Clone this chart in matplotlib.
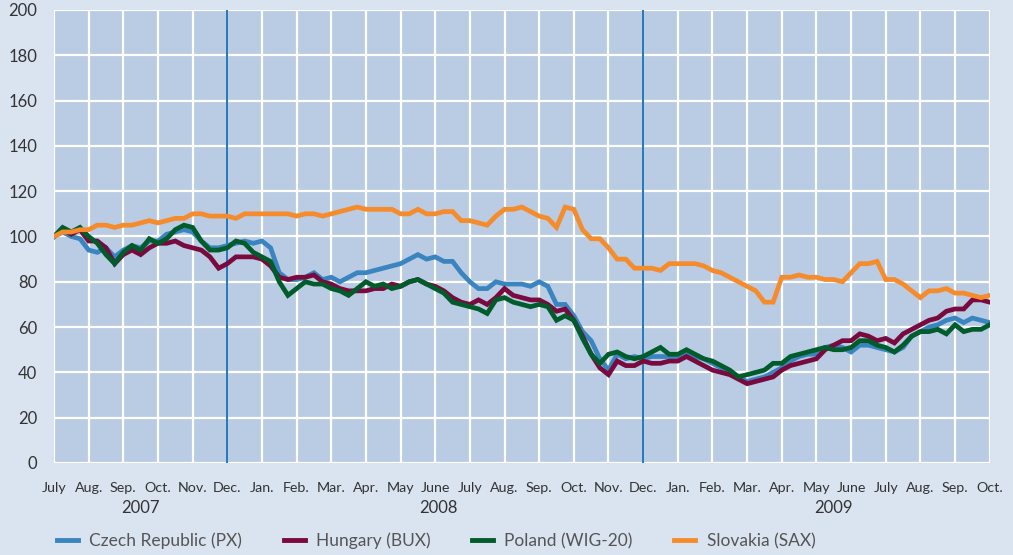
import numpy as np
import matplotlib
matplotlib.use('Agg')
import matplotlib.pyplot as plt
from matplotlib.lines import Line2D

plt.rcParams['font.family'] = ['Lato', 'DejaVu Sans']

# values sampled every quarter month, July 2007 -> Oct 2009 (index 1 July 2007 = 100)
czech = [100, 102, 100, 99, 94, 93, 95, 91, 94, 96, 95, 98, 98, 101, 102, 103, 102, 98, 95, 95,
         96, 97, 98, 97, 98, 95, 84, 81, 81, 82, 84, 81, 82, 80, 82, 84, 84, 85, 86, 87,
         88, 90, 92, 90, 91, 89, 89, 84, 80, 77, 77, 80, 79, 79, 79, 78, 80, 78, 70, 70,
         65, 58, 54, 46, 41, 48, 46, 47, 46, 47, 47, 47, 47, 49, 47, 46, 44, 42, 40, 38,
         36, 37, 38, 40, 42, 45, 47, 48, 48, 51, 52, 51, 49, 52, 52, 51,
         50, 49, 51, 56, 58, 60, 61, 63, 64, 62, 64, 63, 62]
hungary = [100, 103, 101, 103, 98, 98, 95, 88, 92, 94, 92, 95, 97, 97, 98, 96, 95, 94, 91, 86,
           88, 91, 91, 91, 90, 87, 82, 81, 82, 82, 83, 80, 79, 77, 76, 76, 76, 77, 77, 79,
           78, 80, 81, 79, 78, 76, 73, 71, 70, 72, 70, 73, 77, 74, 73, 72, 72, 70, 67, 68,
           63, 56, 48, 42, 39, 45, 43, 43, 45, 44, 44, 45, 45, 47, 45, 43, 41, 40, 39, 37,
           35, 36, 37, 38, 41, 43, 44, 45, 46, 50, 52, 54, 54, 57, 56, 54,
           55, 53, 57, 59, 61, 63, 64, 67, 68, 68, 72, 72, 71]
poland = [100, 104, 102, 104, 100, 97, 92, 88, 93, 96, 94, 99, 97, 99, 103, 105, 104, 98, 94, 94,
          95, 98, 97, 93, 91, 89, 80, 74, 77, 80, 79, 79, 77, 76, 74, 77, 80, 78, 79, 77,
          78, 80, 81, 79, 77, 75, 71, 70, 69, 68, 66, 72, 73, 71, 70, 69, 70, 69, 63, 65,
          63, 55, 48, 44, 48, 49, 47, 46, 47, 49, 51, 48, 48, 50, 48, 46, 45, 43, 41, 38,
          39, 40, 41, 44, 44, 47, 48, 49, 50, 51, 50, 50, 51, 54, 54, 52,
          51, 49, 52, 56, 58, 58, 59, 57, 61, 58, 59, 59, 61]
slovakia = [100, 102, 102, 103, 103, 105, 105, 104, 105, 105, 106, 107, 106, 107, 108, 108, 110, 110, 109, 109,
            109, 108, 110, 110, 110, 110, 110, 110, 109, 110, 110, 109, 110, 111, 112, 113, 112, 112, 112, 112,
            110, 110, 112, 110, 110, 111, 111, 107, 107, 106, 105, 109, 112, 112, 113, 111, 109, 108, 104, 113,
            112, 103, 99, 99, 95, 90, 90, 86, 86, 86, 85, 88, 88, 88, 88, 87, 85, 84, 82, 80,
            78, 76, 71, 71, 82, 82, 83, 82, 82, 81, 81, 80, 84, 88, 88, 89,
            81, 81, 79, 76, 73, 76, 76, 77, 75, 75, 74, 73, 74]

months = ['July', 'Aug.', 'Sep.', 'Oct.', 'Nov.', 'Dec.', 'Jan.', 'Feb.', 'Mar.', 'Apr.', 'May', 'June',
          'July', 'Aug.', 'Sep.', 'Oct.', 'Nov.', 'Dec.', 'Jan.', 'Feb.', 'Mar.', 'Apr.', 'May', 'June',
          'July', 'Aug.', 'Sep.', 'Oct.']
years = ['2007', '2008', '2009']
year_pos = [2.5, 11.1, 22.5]
markers = [5, 17]

series = [('Czech Republic (PX)', czech, '#3a85bf'),
          ('Hungary (BUX)', hungary, '#7a0a3d'),
          ('Poland (WIG-20)', poland, '#005c2a'),
          ('Slovakia (SAX)', slovakia, '#f68b2c')]

t = np.arange(len(czech)) * 0.25

fig = plt.figure(figsize=(10.13, 5.55), dpi=100, facecolor='#dae4f0')
ax = fig.add_axes([0.0533, 0.1658, 0.9237, 0.8162])
ax.set_facecolor('#b9cce4')

for name, vals, col in series:
    ax.plot(t, vals, color=col, lw=3.4, solid_joinstyle='miter', zorder=3)

for m in markers:
    ax.axvline(m, color='#2f78b8', lw=1.5, zorder=2)

ax.set_xlim(0, 27)
ax.set_ylim(0, 200)
ax.set_yticks(range(0, 201, 20))
ax.set_xticks(range(len(months)))
ax.set_xticklabels(months)
ax.grid(True, color='white', lw=1.6, zorder=1)
ax.set_axisbelow(True)
for s in ax.spines.values():
    s.set_visible(False)
ax.tick_params(axis='y', length=0, pad=12, labelsize=12, labelcolor='#333333')
ax.tick_params(axis='x', length=0, pad=14, labelsize=10.3, labelcolor='#333333')

for yr, pos in zip(years, year_pos):
    ax.text(pos, -0.1, yr, transform=ax.get_xaxis_transform(), ha='center', va='center',
            fontsize=12, color='#333333')

handles = [Line2D([0], [0], color=col, lw=3.5) for _, _, col in series]
fig.legend(handles, [n for n, _, _ in series], ncol=4, frameon=False,
           loc='center left', bbox_to_anchor=(0.041, 0.025), fontsize=12.5,
           handlelength=1.2, handletextpad=0.65, columnspacing=2.4, labelcolor='#555555')

fig.savefig('out.png', dpi=100, facecolor=fig.get_facecolor())
